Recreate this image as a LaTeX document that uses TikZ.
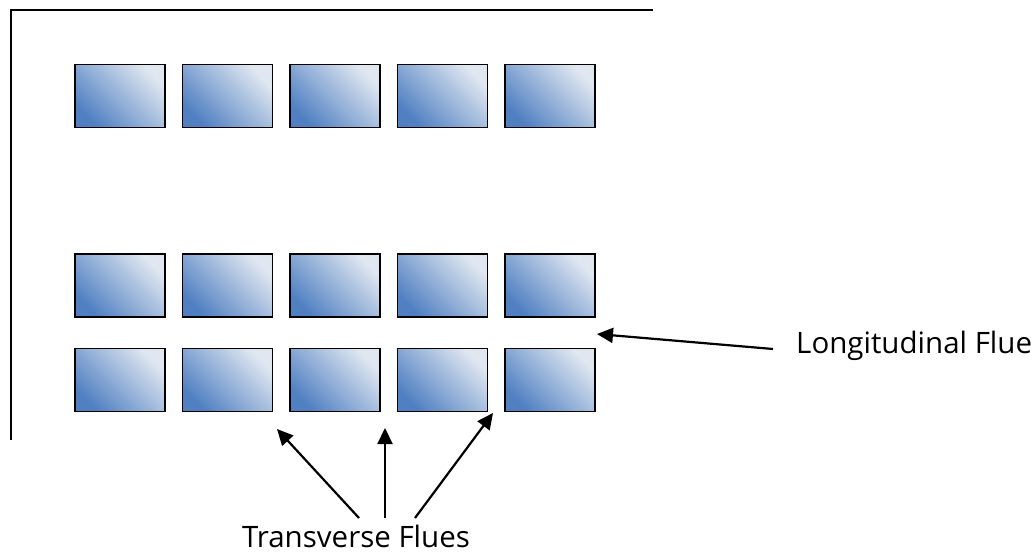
\documentclass[tikz,border=0pt]{standalone}
\usepackage{fontspec}
\setmainfont{Open Sans}
\usetikzlibrary{arrows.meta}
\definecolor{fluedark}{HTML}{5080C2}
\definecolor{fluelight}{HTML}{E0E7F1}
\tikzset{
    brick/.style={draw=black, line width=1.8pt, minimum width=90pt, minimum height=63pt,
        inner sep=0pt, bottom color=fluedark, top color=fluelight, shading angle=-45},
    pointer/.style={line width=2.2pt, -{Triangle[length=16pt, width=15pt]}},
    label/.style={font=\fontsize{29.5}{32}\selectfont, inner sep=0pt}
}
\begin{document}
\begin{tikzpicture}[x=1pt, y=-1pt]
        \useasboundingbox (0, 0) rectangle (1036, 554);
        % Wall
        \draw[line width=1.6pt] (653, 10) -- (11, 10) -- (11, 440);
        
        % Bricks
        \foreach \c in {0, 1, ..., 4} {
            \node[brick] (top\c) at (120 + 107.5*\c, 96) {};
            \node[brick] (mid\c) at (120 + 107.5*\c, 285.5) {};
            \node[brick] (bot\c) at (120 + 107.5*\c, 380) {};
        }
        
        % Labels
        \node[label, anchor=base west] (longlabel) at (796, 353) {Longitudinal Flue};
        \node[label, anchor=base] (translabel) at (356, 547) {Transverse Flues};
        
        % Arrows
        %% -
        \coordinate (longtail) at (773, 349);
        \coordinate (longtip) at (597, 334);
        \draw[pointer] (longtail) -- (longtip);
        %% |
        \coordinate (tail1) at (359, 518);
        \coordinate (tail2) at (385, 518);
        \coordinate (tail3) at (415, 518);
        \coordinate (tip1) at (277, 429);
        \coordinate (tip2) at (385, 428);
        \coordinate (tip3) at (493, 413);
        \foreach \i in {1, 2, 3} {
            \draw[pointer] (tail\i) -- (tip\i);
        }
        
    \end{tikzpicture}
\end{document}
